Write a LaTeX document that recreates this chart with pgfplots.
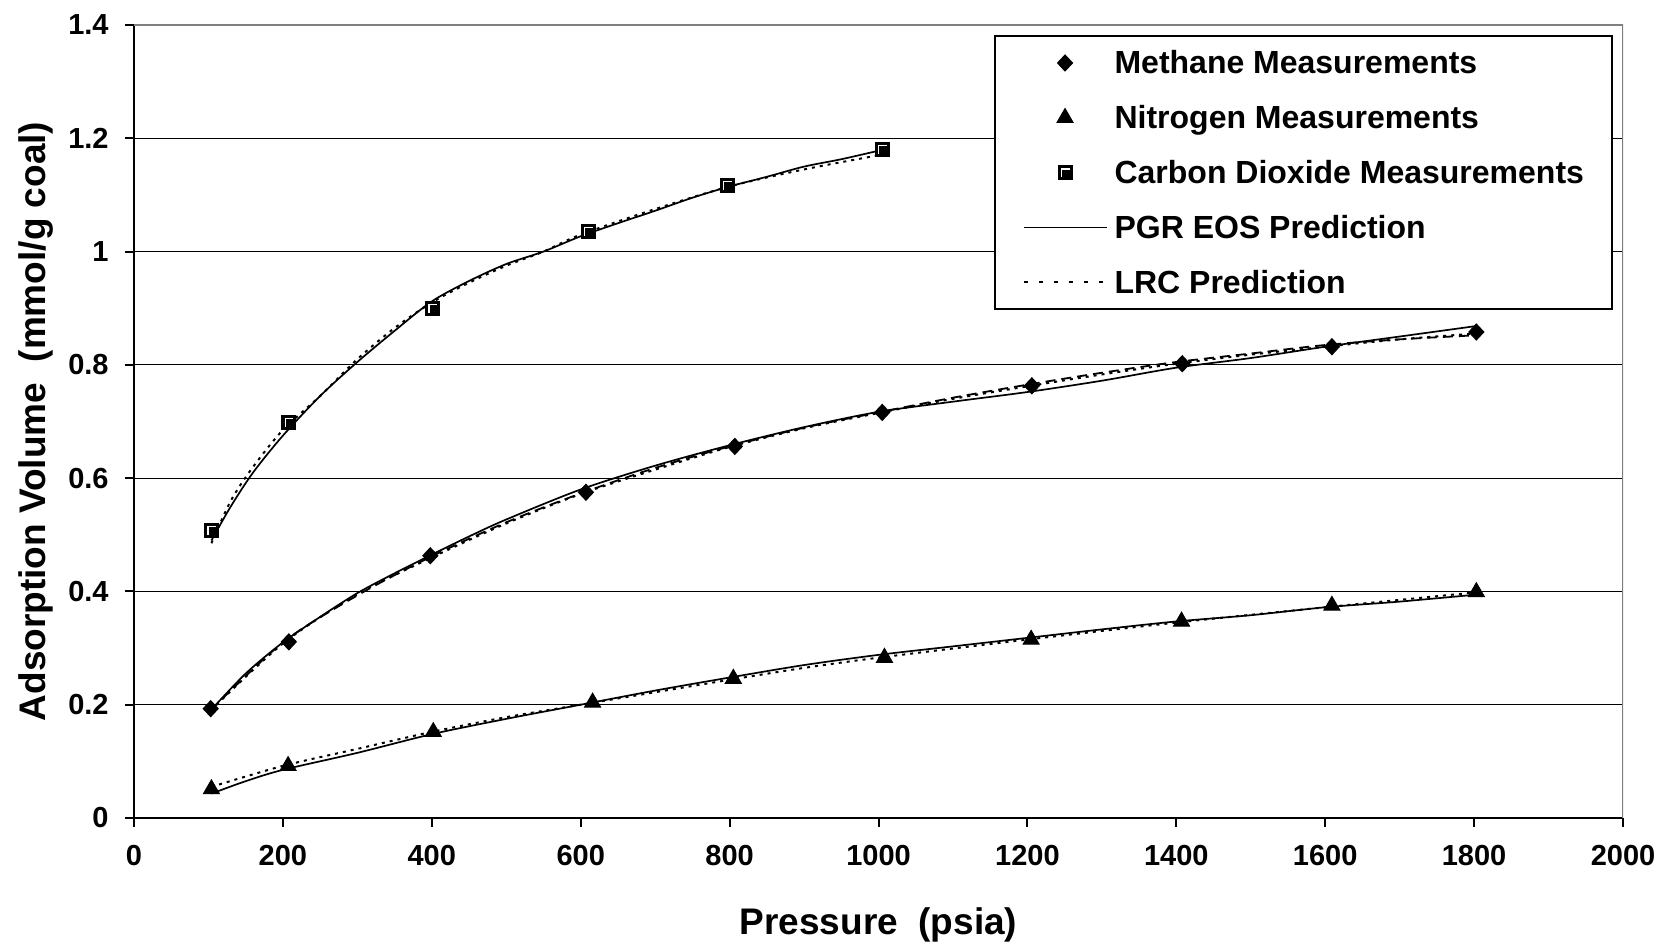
\documentclass[border=0pt]{standalone}
\usepackage{pgfplots}
\pgfplotsset{compat=1.18}
\usepackage{fontspec}
\setmainfont{Liberation Sans}

\pgfdeclareplotmark{co2sq}{%
  \pgfpathrectangle{\pgfqpoint{-\pgfplotmarksize}{-\pgfplotmarksize}}{\pgfqpoint{2\pgfplotmarksize}{2\pgfplotmarksize}}%
  \pgfusepathqfillstroke
  \pgfscope
  \pgfsetstrokecolor{white}\pgfsetlinewidth{0.6pt}%
  \pgfpathmoveto{\pgfqpoint{-0.5\pgfplotmarksize}{-0.65\pgfplotmarksize}}%
  \pgfpathlineto{\pgfqpoint{-0.5\pgfplotmarksize}{0.5\pgfplotmarksize}}%
  \pgfpathlineto{\pgfqpoint{0.65\pgfplotmarksize}{0.5\pgfplotmarksize}}%
  \pgfusepathqstroke
  \endpgfscope
}

\begin{document}
\begin{tikzpicture}
\begin{axis}[name=ax, scale only axis, width=744.5pt, height=396.5pt,
  xmin=0, xmax=2000, ymin=0, ymax=1.4,
  xtick={0,200,400,600,800,1000,1200,1400,1600,1800,2000},
  ytick={0,0.2,0.4,0.6,0.8,1,1.2,1.4},
  yticklabels={0,0.2,0.4,0.6,0.8,1,1.2,1.4},
  /pgf/number format/1000 sep={},
  /pgf/number format/assume math mode=true,
  axis x line*=bottom, axis y line*=left,
  axis line style={-, black, line width=1pt},
  ymajorgrids, major grid style={black, line width=0.5pt},
  tick align=outside, major tick length=4.5pt,
  tick style={black, line width=1pt},
  ticklabel style={font=\fontsize{14.5}{17}\selectfont\bfseries},
  yticklabel style={inner sep=0pt, xshift=-8pt},
  xticklabel style={inner sep=0pt, yshift=-9pt},
  every axis x label/.style={at={(axis description cs:0.5,-0.1463)}, anchor=base, inner sep=0pt, font=\fontsize{18.5}{22}\selectfont\bfseries},
  every axis y label/.style={at={(axis description cs:-0.0658,0.5)}, rotate=90, anchor=center, inner sep=0pt, font=\fontsize{18.5}{22}\selectfont\bfseries},
  xlabel={Pressure~~(psia)},
  ylabel={Adsorption Volume~~(mmol/g coal)},
  legend image code/.code={\draw[mark repeat=2,mark phase=2,#1] plot coordinates {(0pt,0pt)(20.75pt,0pt)(41.5pt,0pt)};},
  legend style={at={(rel axis cs:1,1)}, anchor=north east, xshift=-5pt, yshift=-5pt,
    draw=black, line width=1pt, fill=white,
    font=\fontsize{16}{19}\selectfont\bfseries,
    inner xsep=14pt, inner ysep=6pt, row sep=12.4pt, column sep=3.5pt,
    nodes={inner sep=0pt, text height=13pt, text depth=2pt}},
  legend cell align=left,
]
% legend entries
\addlegendimage{only marks, mark=diamond*, mark size=4pt, mark options={xscale=1.25, fill=black, draw=black, line width=0.5pt}}
\addlegendentry{Methane Measurements}
\addlegendimage{only marks, mark=triangle*, mark size=4.6pt, mark options={fill=black, draw=black, line width=0.5pt}}
\addlegendentry{Nitrogen Measurements}
\addlegendimage{only marks, mark=co2sq, mark size=3.5pt, mark options={fill=black, draw=black, line width=0.5pt}}
\addlegendentry{Carbon Dioxide Measurements}
\addlegendimage{black, line width=0.85pt}
\addlegendentry{PGR EOS Prediction}
\addlegendimage{black, line width=1pt, dash pattern=on 2pt off 5.5pt}
\addlegendentry{LRC Prediction}

% ---- CO2 curves
\addplot[forget plot, black, line width=0.85pt, smooth] coordinates {
(104,0.49)(130,0.55)(160,0.61)(200,0.675)(250,0.745)(300,0.805)(350,0.86)(400,0.912)(450,0.948)(500,0.978)(550,1.0)(600,1.027)(650,1.05)(700,1.072)(750,1.095)(800,1.115)(850,1.132)(900,1.15)(950,1.163)(1000,1.178)};
\addplot[forget plot, black, line width=1pt, dash pattern=on 1.5pt off 2.5pt, smooth] coordinates {
(104,0.485)(130,0.56)(160,0.62)(200,0.685)(250,0.745)(300,0.81)(350,0.865)(400,0.91)(450,0.945)(500,0.975)(550,1.0)(600,1.03)(700,1.075)(800,1.115)(900,1.145)(1000,1.17)};
% ---- Methane curves
\addplot[forget plot, black, line width=0.85pt, smooth] coordinates {
(103,0.19)(150,0.255)(200,0.31)(250,0.355)(300,0.397)(350,0.432)(400,0.465)(450,0.497)(500,0.527)(600,0.58)(700,0.622)(800,0.658)(900,0.69)(1000,0.717)(1100,0.735)(1200,0.752)(1300,0.772)(1400,0.795)(1500,0.812)(1600,0.832)(1700,0.85)(1800,0.868)};
\addplot[forget plot, black, line width=1pt, dash pattern=on 1.5pt off 2.5pt, smooth] coordinates {
(103,0.19)(200,0.308)(300,0.395)(400,0.46)(500,0.52)(600,0.572)(700,0.615)(800,0.655)(900,0.688)(1000,0.715)(1100,0.74)(1200,0.762)(1300,0.783)(1400,0.802)(1500,0.818)(1600,0.832)(1700,0.845)(1800,0.855)};
\addplot[forget plot, black, line width=0.9pt, dash pattern=on 5pt off 3pt, smooth] coordinates {
(103,0.19)(200,0.31)(300,0.393)(400,0.462)(500,0.522)(600,0.573)(700,0.618)(800,0.656)(900,0.689)(1000,0.716)(1100,0.742)(1200,0.765)(1300,0.786)(1400,0.805)(1500,0.82)(1600,0.835)(1700,0.845)(1800,0.852)};
% ---- Nitrogen curves
\addplot[forget plot, black, line width=0.85pt, smooth] coordinates {
(104,0.043)(150,0.065)(200,0.085)(300,0.115)(400,0.148)(500,0.175)(600,0.2)(700,0.225)(800,0.248)(900,0.27)(1000,0.288)(1100,0.303)(1200,0.318)(1300,0.333)(1400,0.347)(1500,0.358)(1600,0.372)(1700,0.382)(1800,0.394)};
\addplot[forget plot, black, line width=1pt, dash pattern=on 1.5pt off 2.5pt, smooth] coordinates {
(104,0.055)(200,0.092)(300,0.122)(400,0.152)(500,0.178)(600,0.2)(700,0.222)(800,0.244)(900,0.265)(1000,0.283)(1200,0.315)(1400,0.345)(1600,0.372)(1800,0.398)};

% ---- measurements
\addplot[forget plot, only marks, mark=diamond*, mark size=4pt, mark options={xscale=1.25, fill=black, draw=black, line width=0.5pt}] coordinates {
(103,0.193)(208,0.311)(398,0.463)(607,0.575)(807,0.656)(1005,0.716)(1206,0.763)(1408,0.802)(1609,0.832)(1803,0.858)};
\addplot[forget plot, only marks, mark=triangle*, mark size=4.6pt, mark options={fill=black, draw=black, line width=0.5pt}] coordinates {
(104,0.051)(207,0.092)(402,0.152)(616,0.204)(805,0.246)(1008,0.283)(1205,0.315)(1407,0.347)(1609,0.375)(1803,0.399)};
\addplot[forget plot, only marks, mark=co2sq, mark size=3.5pt, mark options={fill=black, draw=black, line width=0.5pt}] coordinates {
(104,0.508)(208,0.699)(401,0.900)(610,1.036)(797,1.117)(1005,1.181)};

\draw[gray, line width=0.75pt] (rel axis cs:0,1) -- (rel axis cs:1,1) -- (rel axis cs:1,0);
\end{axis}
\pgfresetboundingbox
\path ([xshift=-67pt,yshift=-63.5pt]ax.south west) rectangle ([xshift=20pt,yshift=12.5pt]ax.north east);
\end{tikzpicture}
\end{document}
